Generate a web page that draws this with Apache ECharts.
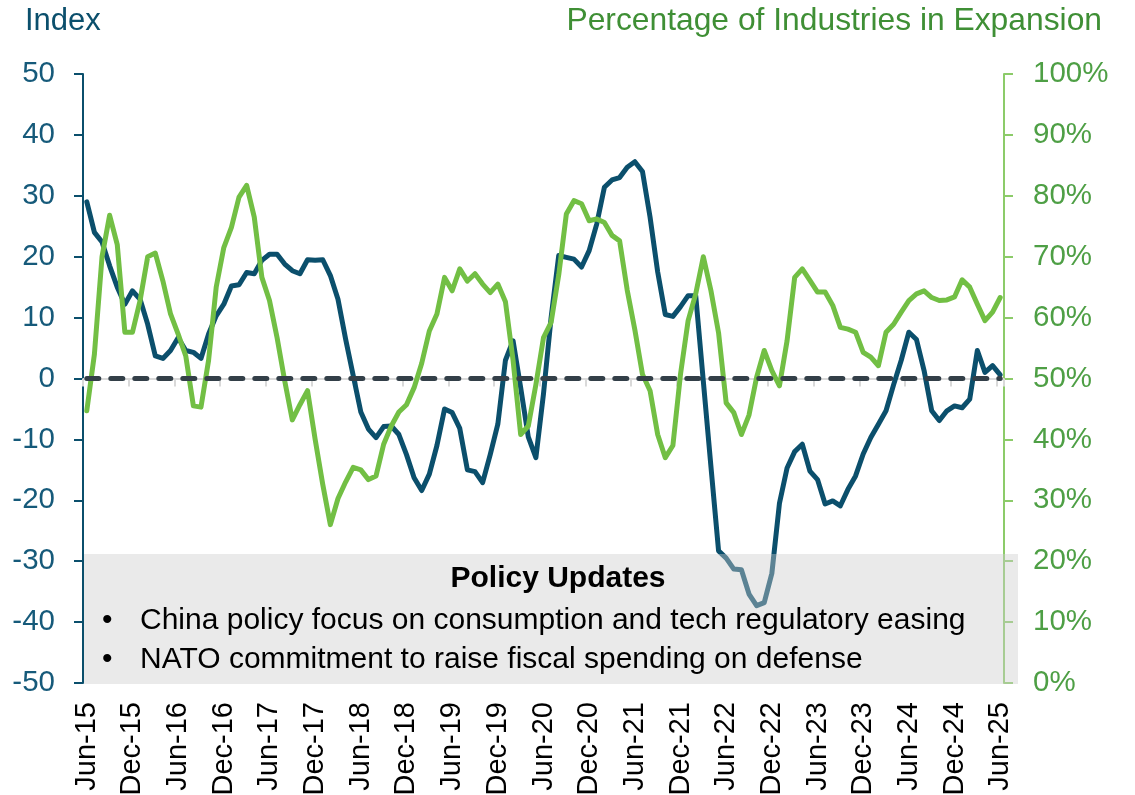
<!DOCTYPE html>
<html>
<head>
<meta charset="utf-8">
<script src="https://cdn.jsdelivr.net/npm/echarts@6/dist/echarts.min.js"></script>
<style>
  html, body { margin: 0; padding: 0; background: #fff; }
  #chart { width: 1135px; height: 795px; }
</style>
</head>
<body>
<div id="chart"></div>
<script>
// monthly categories Jun-15 .. Jun-25
const monthNames = ['Jan', 'Feb', 'Mar', 'Apr', 'May', 'Jun', 'Jul', 'Aug', 'Sep', 'Oct', 'Nov', 'Dec'];
const months = [];
for (let y = 15; y <= 25; y++) {
  for (let m = 0; m < 12; m++) {
    if ((y === 15 && m < 5) || (y === 25 && m > 5)) continue;
    months.push(monthNames[m] + '-' + y);
  }
}

// left axis: index
const indexValues = [
  29, 24, 22.4, 18.5, 15, 12.2, 14.4, 13, 8.9, 3.7,
  3.3, 4.6, 6.7, 4.6, 4.3, 3.3, 7.3, 10.3, 12.2, 15.2,
  15.4, 17.4, 17.2, 19.4, 20.4, 20.4, 18.8, 17.7, 17.2, 19.5,
  19.4, 19.5, 16.9, 13, 6.5, 0.5, -5.5, -8.3, -9.7, -7.9,
  -7.8, -9.2, -12.5, -16.3, -18.4, -15.7, -11, -5, -5.6, -8.2,
  -15, -15.3, -17.1, -12.5, -7.5, 3, 6.2, -1.5, -9.6, -13,
  -2.5, 10, 20.2, 19.9, 19.6, 18.3, 21, 25.4, 31.4, 32.6,
  33, 34.7, 35.6, 34, 26.5, 17.5, 10.5, 10.2, 11.8, 13.6,
  13.6, -0.5, -14.5, -28.3, -29.5, -31.3, -31.4, -35.4, -37.3, -36.8,
  -32, -20.5, -14.7, -12, -10.8, -15.2, -16.6, -20.6, -20.1, -20.9,
  -18.2, -16, -12.4, -9.7, -7.5, -5.3, -1, 3, 7.6, 6.4,
  1.3, -5.3, -6.9, -5.3, -4.5, -4.8, -3.4, 4.6, 1, 2.1,
  0.6
];

// right axis: % of industries in expansion
const expansionPct = [
  44.7, 54, 70, 76.8, 72, 57.6, 57.6, 62.8, 70, 70.6,
  66, 60.6, 57.3, 53.7, 45.5, 45.3, 53, 65, 71.5, 74.8,
  79.8, 81.7, 76.5, 66.6, 62.8, 56.7, 49.6, 43.2, 45.7, 48,
  40, 32.6, 26, 30.3, 33, 35.4, 35, 33.4, 34, 39.2,
  42.2, 44.5, 45.7, 48.5, 52.5, 57.8, 60.6, 66.6, 64.4, 68,
  66, 67.2, 65.5, 64.1, 65.5, 62.6, 53, 40.8, 42.2, 49,
  56.7, 59.2, 67, 77, 79.2, 78.7, 75.9, 76.2, 75.6, 73.5,
  72.6, 64.5, 58, 50.7, 48, 40.8, 37, 39, 50.7, 59.5,
  63.9, 70, 64.4, 57.5, 46, 44.4, 40.8, 44, 50.2, 54.6,
  51.3, 48.8, 56.2, 66.6, 68, 66.1, 64.2, 64.2, 62, 58.4,
  58.1, 57.6, 54.3, 53.5, 52.1, 57.6, 58.9, 60.9, 62.8, 63.9,
  64.4, 63.3, 62.8, 62.9, 63.4, 66.2, 65, 62.2, 59.5, 60.9,
  63.3
];

const zeroLine = months.map(() => 0);

const policyTitle = 'Policy Updates';
const policyNotes = [
  'China policy focus on consumption and tech regulatory easing',
  'NATO commitment to raise fiscal spending on defense'
];

const FONT = '"Liberation Sans", Arial, sans-serif';
const DARK = '#0b4f6c';
const GREEN = '#72bf44';

const chart = echarts.init(document.getElementById('chart'));

chart.setOption({
  animation: false,
  grid: { left: 83, right: 131, top: 74, bottom: 112, outerBoundsMode: 'none' },
  xAxis: [
    {
      // line + ticks sitting on the zero level
      type: 'category',
      data: months,
      boundaryGap: true,
      position: 'top',
      axisLine: { onZero: true, onZeroAxisIndex: 0, lineStyle: { color: '#d9d9d9', width: 2 } },
      axisTick: { show: true, inside: true, length: 8, interval: 5, lineStyle: { color: '#d9d9d9', width: 2 } },
      axisLabel: { show: false },
      splitLine: { show: false }
    },
    {
      // labels at the bottom
      type: 'category',
      data: months,
      boundaryGap: true,
      position: 'bottom',
      axisLine: { show: false, onZero: false },
      axisTick: { show: false },
      axisLabel: { interval: 5, rotate: 90, fontSize: 29, color: '#000', margin: 19, fontFamily: FONT },
      splitLine: { show: false }
    }
  ],
  yAxis: [
    {
      type: 'value',
      min: -50,
      max: 50,
      interval: 10,
      position: 'left',
      axisLine: { show: true, lineStyle: { color: DARK, width: 2 } },
      axisTick: { show: true, length: 9, lineStyle: { color: DARK, width: 2 } },
      axisLabel: { fontSize: 29.5, color: '#165a7a', margin: 28, fontFamily: FONT },
      splitLine: { show: false }
    },
    {
      type: 'value',
      min: 0,
      max: 100,
      interval: 10,
      position: 'right',
      axisLine: { show: true, lineStyle: { color: '#8ccb69', width: 2 } },
      axisTick: { show: true, length: 9, lineStyle: { color: '#8ccb69', width: 2 } },
      axisLabel: { fontSize: 29.5, color: '#4e9f45', margin: 29, formatter: '{value}%', fontFamily: FONT },
      splitLine: { show: false }
    }
  ],
  series: [
    {
      name: 'Index',
      type: 'line',
      xAxisIndex: 0,
      yAxisIndex: 0,
      data: indexValues,
      showSymbol: false,
      lineStyle: { color: DARK, width: 5, cap: 'round', join: 'round' },
      itemStyle: { color: DARK },
      z: 2
    },
    {
      name: 'Percentage of Industries in Expansion',
      type: 'line',
      xAxisIndex: 0,
      yAxisIndex: 1,
      data: expansionPct,
      showSymbol: false,
      lineStyle: { color: GREEN, width: 5, cap: 'round', join: 'round' },
      itemStyle: { color: GREEN },
      z: 3
    },
    {
      name: 'zero',
      type: 'line',
      xAxisIndex: 0,
      yAxisIndex: 0,
      data: zeroLine,
      showSymbol: false,
      lineStyle: { color: '#333f48', width: 5, type: [12, 12], cap: 'round' },
      z: 4
    }
  ],
  graphic: [
    {
      type: 'text', x: 25, y: 21, z: 10,
      style: { text: 'Index', fontSize: 31, fontFamily: FONT, fill: DARK, verticalAlign: 'middle' }
    },
    {
      type: 'text', x: 1102, y: 21, z: 10,
      style: { text: 'Percentage of Industries in Expansion', fontSize: 31.8, fontFamily: FONT, fill: '#3f8f35', align: 'right', verticalAlign: 'middle' }
    },
    {
      type: 'rect', z: 100,
      shape: { x: 84, y: 554, width: 934, height: 130 },
      style: { fill: 'rgba(205,205,205,0.42)' }
    },
    {
      type: 'text', x: 558, y: 579, z: 101,
      style: { text: policyTitle, fontSize: 30, fontWeight: 'bold', fontFamily: FONT, fill: '#000', align: 'center', verticalAlign: 'middle' }
    },
    {
      type: 'text', x: 102, y: 621, z: 101,
      style: { text: '•', fontSize: 30, fontFamily: FONT, fill: '#000', verticalAlign: 'middle' }
    },
    {
      type: 'text', x: 140, y: 621, z: 101,
      style: { text: policyNotes[0], fontSize: 30, fontFamily: FONT, fill: '#000', verticalAlign: 'middle' }
    },
    {
      type: 'text', x: 102, y: 660, z: 101,
      style: { text: '•', fontSize: 30, fontFamily: FONT, fill: '#000', verticalAlign: 'middle' }
    },
    {
      type: 'text', x: 140, y: 660, z: 101,
      style: { text: policyNotes[1], fontSize: 30, fontFamily: FONT, fill: '#000', verticalAlign: 'middle' }
    }
  ]
});
</script>
</body>
</html>
